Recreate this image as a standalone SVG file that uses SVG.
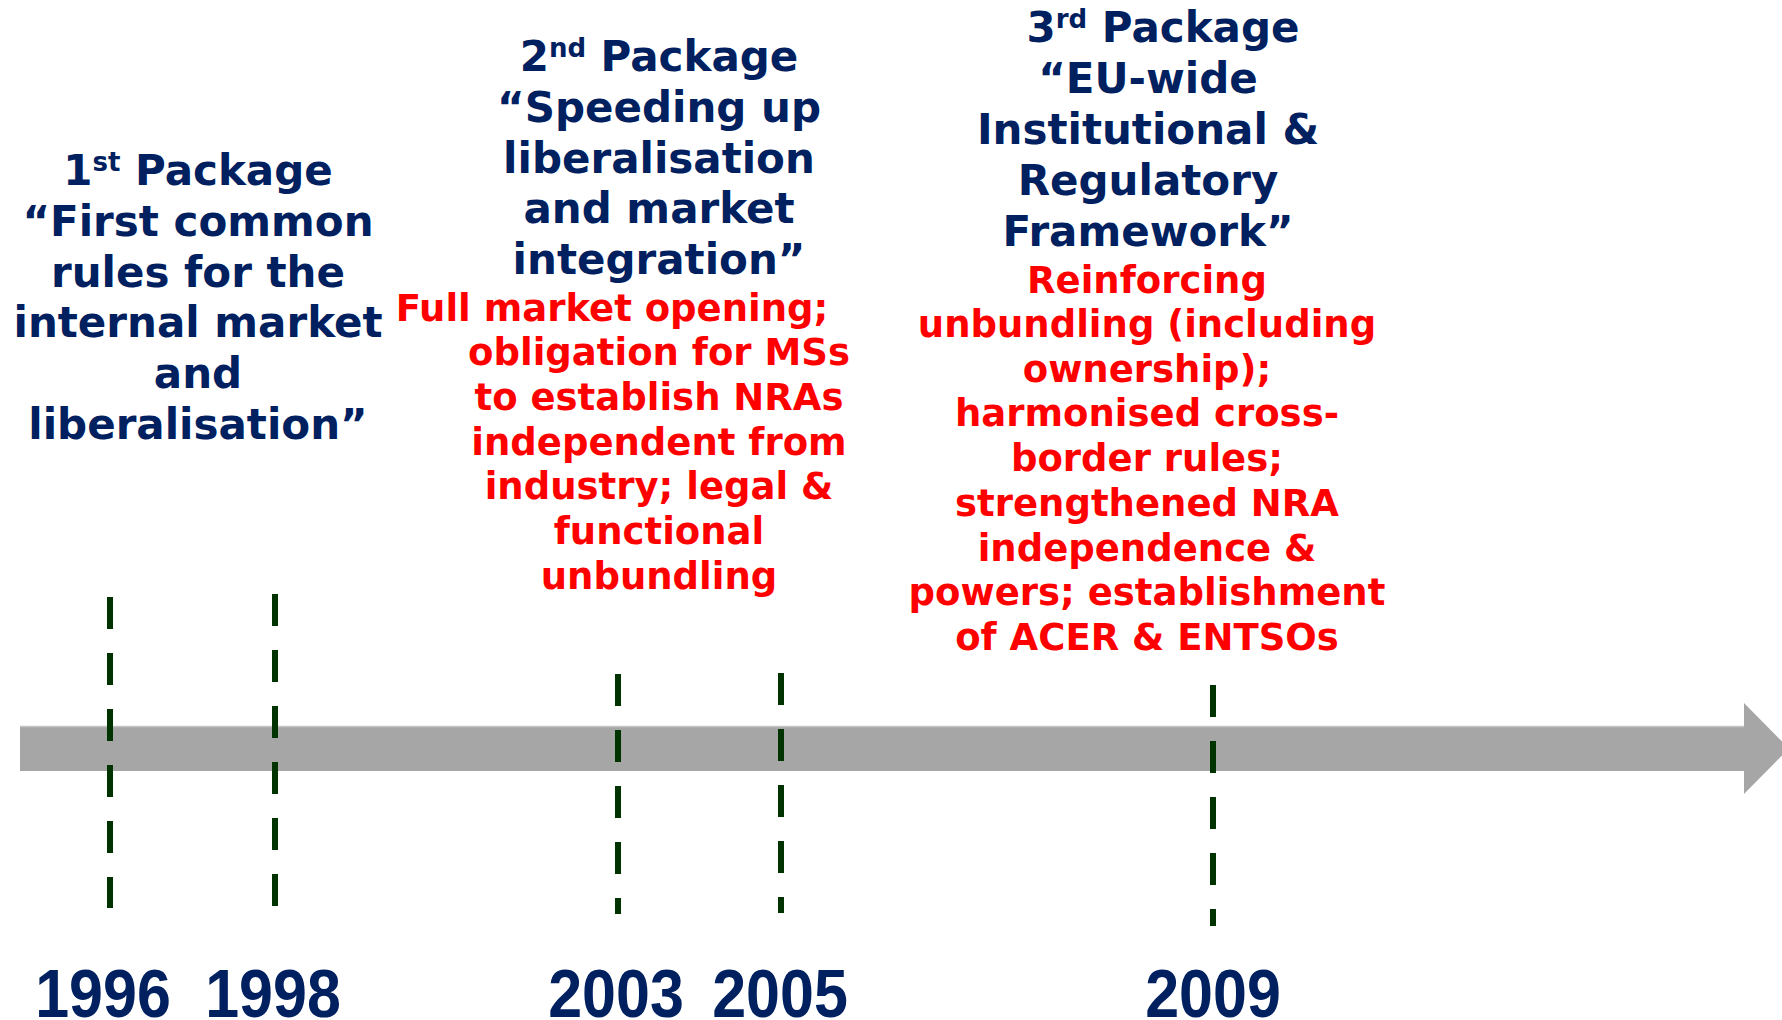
<svg xmlns="http://www.w3.org/2000/svg" width="1782" height="1020" viewBox="0 0 1782 1020">
<style>
.hd{font-family:"DejaVu Sans","Verdana",sans-serif;font-weight:bold;font-size:42px;fill:#002060;text-anchor:middle}
.rd{font-family:"DejaVu Sans","Verdana",sans-serif;font-weight:bold;font-size:37px;fill:#ff0000;text-anchor:middle}
.yr{font-family:"Liberation Sans",Arial,sans-serif;font-weight:bold;font-size:61px;fill:#002060;text-anchor:middle}
.sup{font-size:26px}
.dash{stroke:#003300;stroke-width:6;stroke-dasharray:32 24;fill:none}
</style>
<rect width="1782" height="1020" fill="#ffffff"/>
<g id="timeline">
<polygon points="20,726 1744,726 1744,703 1789,748.5 1744,794 1744,771 20,771" fill="#a6a6a6"/>
<line x1="20" y1="726.5" x2="1744" y2="726.5" stroke="#c4c4c4" stroke-width="1.5"/>
</g>
<g id="connectors">
<line class="dash" x1="110" y1="597" x2="110" y2="908"/>
<line class="dash" x1="275" y1="594" x2="275" y2="906"/>
<line class="dash" x1="618" y1="674" x2="618" y2="914"/>
<line class="dash" x1="781" y1="673" x2="781" y2="913"/>
<line class="dash" x1="1213" y1="685" x2="1213" y2="926"/>
</g>
<g id="package1">
<text class="hd" x="198" y="185">1<tspan class="sup" dy="-14">st</tspan><tspan dy="14"> Package</tspan></text>
<text class="hd" x="198" y="236">“First common</text>
<text class="hd" x="198" y="287">rules for the</text>
<text class="hd" x="198" y="337">internal market</text>
<text class="hd" x="198" y="388">and</text>
<text class="hd" x="198" y="439">liberalisation”</text>
</g>
<g id="package2">
<text class="hd" x="659" y="71">2<tspan class="sup" dy="-14">nd</tspan><tspan dy="14"> Package</tspan></text>
<text class="hd" x="659" y="122">“Speeding up</text>
<text class="hd" x="659" y="173">liberalisation</text>
<text class="hd" x="659" y="223">and market</text>
<text class="hd" x="659" y="274">integration”</text>
<text class="rd" x="612" y="321">Full market opening;</text>
<text class="rd" x="659" y="365">obligation for MSs</text>
<text class="rd" x="659" y="410">to establish NRAs</text>
<text class="rd" x="659" y="455">independent from</text>
<text class="rd" x="659" y="499">industry; legal &amp;</text>
<text class="rd" x="659" y="544">functional</text>
<text class="rd" x="659" y="589">unbundling</text>
</g>
<g id="package3">
<text class="hd" x="1163" y="42">3<tspan class="sup" dy="-14">rd</tspan><tspan dy="14"> Package</tspan></text>
<text class="hd" x="1148" y="93">“EU-wide</text>
<text class="hd" x="1148" y="144">Institutional &amp;</text>
<text class="hd" x="1148" y="195">Regulatory</text>
<text class="hd" x="1148" y="246">Framework”</text>
<text class="rd" x="1147" y="293">Reinforcing</text>
<text class="rd" x="1147" y="337">unbundling (including</text>
<text class="rd" x="1147" y="382">ownership);</text>
<text class="rd" x="1147" y="426">harmonised cross-</text>
<text class="rd" x="1147" y="471">border rules;</text>
<text class="rd" x="1147" y="516">strengthened NRA</text>
<text class="rd" x="1147" y="561">independence &amp;</text>
<text class="rd" x="1147" y="605">powers; establishment</text>
<text class="rd" x="1147" y="650">of ACER &amp; ENTSOs</text>
</g>
<g id="year1996"><text class="yr" transform="translate(103,1017) scale(1,1.12)">1996</text></g>
<g id="year1998"><text class="yr" transform="translate(273,1017) scale(1,1.12)">1998</text></g>
<g id="year2003"><text class="yr" transform="translate(616,1017) scale(1,1.12)">2003</text></g>
<g id="year2005"><text class="yr" transform="translate(780,1017) scale(1,1.12)">2005</text></g>
<g id="year2009"><text class="yr" transform="translate(1213,1017) scale(1,1.12)">2009</text></g>
</svg>
